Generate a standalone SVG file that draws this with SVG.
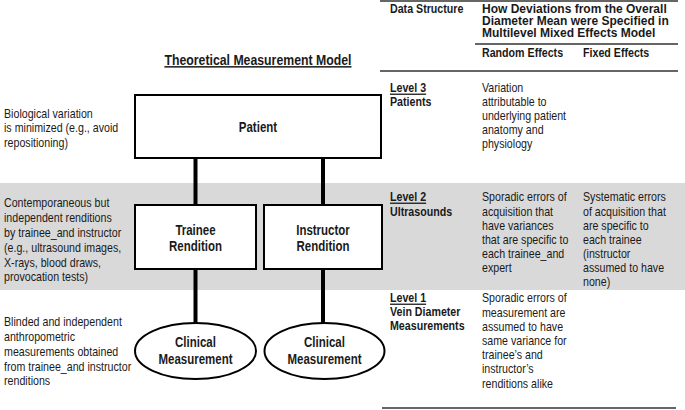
<svg xmlns="http://www.w3.org/2000/svg" width="685" height="410" viewBox="0 0 685 410">
<style>
text { font-family: "Liberation Sans Narrow", "Liberation Sans", "Arial", sans-serif; fill: #1a1a1a; }
.t { font-size: 13px; }
.l { font-size: 13px; }
.b { font-size: 13px; font-weight: bold; }
.h { font-size: 12px; font-weight: bold; }
.u { text-decoration: underline; }
.n { font-size: 14px; font-weight: bold; text-anchor: middle; }
.title { font-size: 15px; font-weight: bold; text-anchor: middle; text-decoration: underline; }
.box { fill: #ffffff; stroke: #000; stroke-width: 2; }
.conn { stroke: #000; stroke-width: 4; fill: none; }
.rule { stroke: #333; stroke-width: 1.5; }
</style>
<rect x="0" y="183" width="685" height="107" fill="#d9d9d9"/>
<g id="table-rules">
<line class="rule" x1="380" y1="1" x2="678" y2="1" stroke-width="2"/>
<line class="rule" x1="475" y1="44" x2="678" y2="44"/>
<line class="rule" x1="380" y1="71" x2="678" y2="71"/>
<line class="rule" x1="382" y1="408" x2="676" y2="408"/>
</g>
<g id="header">
<g transform="scale(0.82 1)">
<text class="b" x="475.6" y="13">Data Structure</text>
<text class="b" x="587.8" y="57">Random Effects</text>
<text class="b" x="711" y="57">Fixed Effects</text>
</g>
<text class="h" x="482" y="12.5">How Deviations from the Overall</text>
<text class="h" x="482" y="24.5">Diameter Mean were Specified in</text>
<text class="h" x="482" y="36.5">Multilevel Mixed Effects Model</text>
</g>
<g id="title" transform="scale(0.82 1)">
<text class="title" x="314.6" y="65">Theoretical Measurement Model</text>
</g>
<g id="connectors">
<line class="conn" x1="195.5" y1="158" x2="195.5" y2="205"/>
<line class="conn" x1="323" y1="158" x2="323" y2="205"/>
<line class="conn" x1="195.5" y1="269" x2="195.5" y2="323"/>
<line class="conn" x1="323" y1="269" x2="323" y2="323"/>
</g>
<g id="patient">
<rect class="box" x="135" y="95" width="246" height="63"/>
<text class="n" transform="scale(0.82 1)" x="314.6" y="132">Patient</text>
</g>
<g id="trainee-rendition">
<rect class="box" x="135" y="205" width="121" height="64"/>
<g transform="scale(0.82 1)">
<text class="n" x="238.4" y="235">Trainee</text>
<text class="n" x="238.4" y="251">Rendition</text>
</g>
</g>
<g id="instructor-rendition">
<rect class="box" x="264" y="205" width="118" height="64"/>
<g transform="scale(0.82 1)">
<text class="n" x="393.9" y="235">Instructor</text>
<text class="n" x="393.9" y="251">Rendition</text>
</g>
</g>
<g id="trainee-measurement">
<ellipse class="box" cx="195.5" cy="351" rx="60.5" ry="28"/>
<g transform="scale(0.82 1)">
<text class="n" x="238.4" y="347">Clinical</text>
<text class="n" x="238.4" y="364">Measurement</text>
</g>
</g>
<g id="instructor-measurement">
<ellipse class="box" cx="324.5" cy="351" rx="60" ry="28"/>
<g transform="scale(0.82 1)">
<text class="n" x="395.7" y="347">Clinical</text>
<text class="n" x="395.7" y="364">Measurement</text>
</g>
</g>
<g id="left-notes" transform="scale(0.82 1)">
<text class="l" x="4.9" y="118">Biological variation</text>
<text class="l" x="4.9" y="132.5">is minimized (e.g., avoid</text>
<text class="l" x="4.9" y="147">repositioning)</text>
<text class="l" x="4.9" y="207.5">Contemporaneous but</text>
<text class="l" x="4.9" y="222.3">independent renditions</text>
<text class="l" x="4.9" y="237.1">by trainee_and instructor</text>
<text class="l" x="4.9" y="251.9">(e.g., ultrasound images,</text>
<text class="l" x="4.9" y="266.7">X-rays, blood draws,</text>
<text class="l" x="4.9" y="281.5">provocation tests)</text>
<text class="l" x="4.9" y="326.5">Blinded and independent</text>
<text class="l" x="4.9" y="341.2">anthropometric</text>
<text class="l" x="4.9" y="355.9">measurements obtained</text>
<text class="l" x="4.9" y="370.6">from trainee_and instructor</text>
<text class="l" x="4.9" y="385.3">renditions</text>
</g>
<g id="level3" transform="scale(0.82 1)">
<text class="b u" x="475.6" y="92.5">Level 3</text>
<text class="b" x="475.6" y="106.5">Patients</text>
<text class="t" x="587.8" y="92.5">Variation</text>
<text class="t" x="587.8" y="106.5">attributable to</text>
<text class="t" x="587.8" y="120.5">underlying patient</text>
<text class="t" x="587.8" y="134.5">anatomy and</text>
<text class="t" x="587.8" y="148.5">physiology</text>
</g>
<g id="level2" transform="scale(0.82 1)">
<text class="b u" x="475.6" y="201.5">Level 2</text>
<text class="b" x="475.6" y="216">Ultrasounds</text>
<text class="t" x="587.8" y="201.5">Sporadic errors of</text>
<text class="t" x="587.8" y="215.6">acquisition that</text>
<text class="t" x="587.8" y="229.7">have variances</text>
<text class="t" x="587.8" y="243.8">that are specific to</text>
<text class="t" x="587.8" y="257.9">each trainee_and</text>
<text class="t" x="587.8" y="272">expert</text>
<text class="t" x="711" y="201.5">Systematic errors</text>
<text class="t" x="711" y="215.6">of acquisition that</text>
<text class="t" x="711" y="229.7">are specific to</text>
<text class="t" x="711" y="243.8">each trainee</text>
<text class="t" x="711" y="257.9">(instructor</text>
<text class="t" x="711" y="272">assumed to have</text>
<text class="t" x="711" y="286.1">none)</text>
</g>
<g id="level1" transform="scale(0.82 1)">
<text class="b u" x="475.6" y="302.5">Level 1</text>
<text class="b" x="475.6" y="316.5">Vein Diameter</text>
<text class="b" x="475.6" y="330.5">Measurements</text>
<text class="t" x="587.8" y="302.5">Sporadic errors of</text>
<text class="t" x="587.8" y="316.7">measurement are</text>
<text class="t" x="587.8" y="330.9">assumed to have</text>
<text class="t" x="587.8" y="345.1">same variance for</text>
<text class="t" x="587.8" y="359.3">trainee’s and</text>
<text class="t" x="587.8" y="373.5">instructor’s</text>
<text class="t" x="587.8" y="387.7">renditions alike</text>
</g>
</svg>
